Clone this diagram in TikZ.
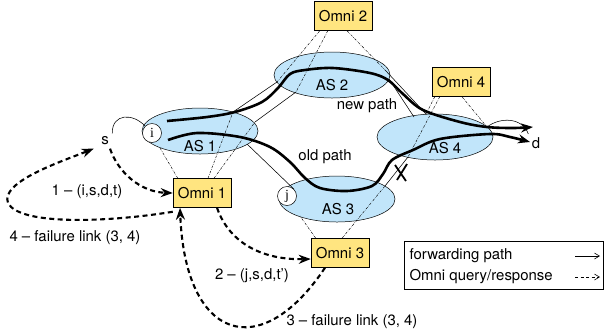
\documentclass[tikz,border=0pt]{standalone}
\usepackage{fontspec}
\setmainfont{TeX Gyre Heros}
\newfontfamily\rtfont{Liberation Serif}
\usetikzlibrary{arrows.meta,shapes.geometric,calc}
\definecolor{asblue}{RGB}{193,229,250}
\definecolor{omniyellow}{RGB}{255,229,128}

\begin{document}
\begin{tikzpicture}[x=1bp,y=-1bp,>={Stealth[length=12bp,width=9bp]},
    font=\fontsize{15}{18}\selectfont,
    as node/.style={ellipse,draw,line width=0.5bp,fill=asblue,minimum width=116bp,minimum height=46bp,inner sep=0pt},
    omni node/.style={draw,line width=0.5bp,fill=omniyellow,minimum width=58bp,minimum height=29bp,inner sep=0pt},
    router node/.style={circle,draw,line width=0.5bp,fill=white,minimum size=19bp,inner sep=0pt,font=\rtfont\fontsize{14}{16}\selectfont},
    cone line/.style={line width=0.45bp,dash pattern=on 2.5bp off 1.2bp on 0.5bp off 1.2bp},
    link line/.style={line width=0.55bp},
    fwd path/.style={line width=2.6bp,->},
    omni msg/.style={line width=2.1bp,dash pattern=on 5bp off 3.5bp,->}]
  \useasboundingbox (0,0) rectangle (604,335);

  % autonomous systems
  \node[as node] (AS1) at (200,131) {};
  \node[as node] (AS2) at (332,75) {};
  \node[as node] (AS3) at (337,199) {};
  \node[as node] (AS4) at (435,137) {};

  % omni servers
  \node[omni node] (O1) at (202,193) {Omni 1};
  \node[omni node] (O2) at (343,16) {Omni 2};
  \node[omni node] (O3) at (340,253) {Omni 3};
  \node[omni node] (O4) at (461,82) {Omni 4};

  % border points
  \coordinate (h1) at (160,148);
  \coordinate (a1) at (233,112);
  \coordinate (a2) at (255,122);
  \coordinate (b1) at (277,82);
  \coordinate (b2) at (296,92);
  \coordinate (c1) at (386,71);
  \coordinate (c2) at (389,79);
  \coordinate (e1) at (426,114);
  \coordinate (e2) at (414,117);
  \coordinate (g) at (487,127);
  \coordinate (k) at (247,144);
  \coordinate (m) at (300,216);
  \coordinate (f1) at (385,186);
  \coordinate (f2) at (408,157);

  % inter-domain links
  \draw[link line] (a1) -- (b1);
  \draw[link line] (a2) -- (b2);
  \draw[link line] (c1) -- (e1);
  \draw[link line] (c2) -- (e2);
  \draw[link line] (f1) -- (f2);

  % omni to border routers
  \draw[cone line] ([xshift=5bp]O1.north west) -- (h1);
  \draw[cone line] ([xshift=6bp]O1.north) -- (a1);
  \draw[cone line] ([xshift=12bp]O1.north) -- (a2);
  \draw[cone line] ([xshift=6bp]O2.south west) -- (b1);
  \draw[cone line] ([xshift=14bp]O2.south west) -- (b2);
  \draw[cone line] ([xshift=4bp]O2.south) -- (c1);
  \draw[cone line] ([xshift=3bp]O4.south west) -- (e1);
  \draw[cone line] ([xshift=8bp]O4.south west) -- (f2);
  \draw[cone line] ([xshift=1bp]O4.south) -- (g);
  \draw[cone line] ([xshift=5bp]O3.north west) -- (m);
  \draw[cone line] ([xshift=2bp]O3.north) -- (f1);

  % routers and end hosts
  \node[router node] (i) at (152,133) {i};
  \node[router node] (j) at (287,196) {j};
  \node (s) at (105,141) {s};
  \node (d) at (536,143) {d};

  \draw[link line] (s.north east) .. controls (112,113) and (133,113) .. (i.north west);
  \draw[link line] (k) -- (j.north east);
  \draw[link line] (g) .. controls (500,117) and (522,117) .. (d.north west);

  % forwarding paths
  \draw[fwd path] plot[smooth,tension=0.55] coordinates {(167,121) (207,117) (235,112) (262,102)
    (278,88) (290,74) (305,70) (333,68) (370,73) (388,80) (403,94) (423,110) (460,122)
    (487,127) (513,128) (533,127)};
  \draw[fwd path] plot[smooth,tension=0.55] coordinates {(168,140) (197,133) (240,137) (270,147)
    (290,162) (305,178) (320,188) (347,191) (372,186) (383,174) (392,160) (413,150)
    (440,139) (490,134) (510,137) (530,142)};

  % failed link
  \coordinate (fail) at (401,173);
  \draw[line width=1.8bp] ($(fail)+(-6,-8)$) -- ($(fail)+(5,8)$);
  \draw[line width=1.8bp] ($(fail)+(6,-9)$) -- ($(fail)+(-4,7)$);

  % labels
  \node (AS1l) at (200,146) {AS 1};
  \node (AS2l) at (332,85) {AS 2};
  \node (AS3l) at (338,209) {AS 3};
  \node (AS4l) at (445,148) {AS 4};
  \node (newl) at (367,106) {new path};
  \node (oldl) at (325,157) {old path};

  % omni queries and responses
  \draw[omni msg] ([xshift=5bp]s.south) .. controls (118,172) and (140,192) .. (O1.west);
  \draw[omni msg] ([xshift=15bp]O1.south) .. controls (230,245) and (265,260) .. ([yshift=-6bp]O3.west);
  \draw[omni msg] ([xshift=-15bp]O3.south) .. controls (260,365) and (185,340) .. ([xshift=-22bp]O1.south);
  \coordinate (w4) at (8,203);
  \draw[omni msg] ([yshift=-4bp]O1.south west) .. controls (110,222) and (20,226) .. (w4)
    .. controls (0,182) and (60,162) .. ([xshift=-4bp]s.south west);
  \node (q1) at (87,192) {1 – (i,s,d,t)};
  \node (q2) at (252,276) {2 – (j,s,d,t')};
  \node (q3) at (352,322) {3 – failure link (3, 4)};
  \node (q4) at (75,238) {4 – failure link (3, 4)};

  % legend
  \node[draw,line width=0.5bp,anchor=north west,minimum width=199bp,minimum height=48bp] (legend) at (404,241) {};
  \node[anchor=west] (lf) at (406,256) {forwarding path};
  \node[anchor=west] (lq) at (406,277) {Omni query/response};
  \coordinate (lf1) at (575,256);
  \coordinate (lf2) at (600,256);
  \coordinate (lq1) at (575,277);
  \coordinate (lq2) at (600,277);
  \draw[line width=0.6bp,-{Straight Barb[length=5bp,width=6bp]}] (lf1) -- (lf2);
  \draw[line width=0.6bp,dash pattern=on 3bp off 2.5bp,-{Straight Barb[length=5bp,width=6bp]}] (lq1) -- (lq2);
\end{tikzpicture}
\end{document}
